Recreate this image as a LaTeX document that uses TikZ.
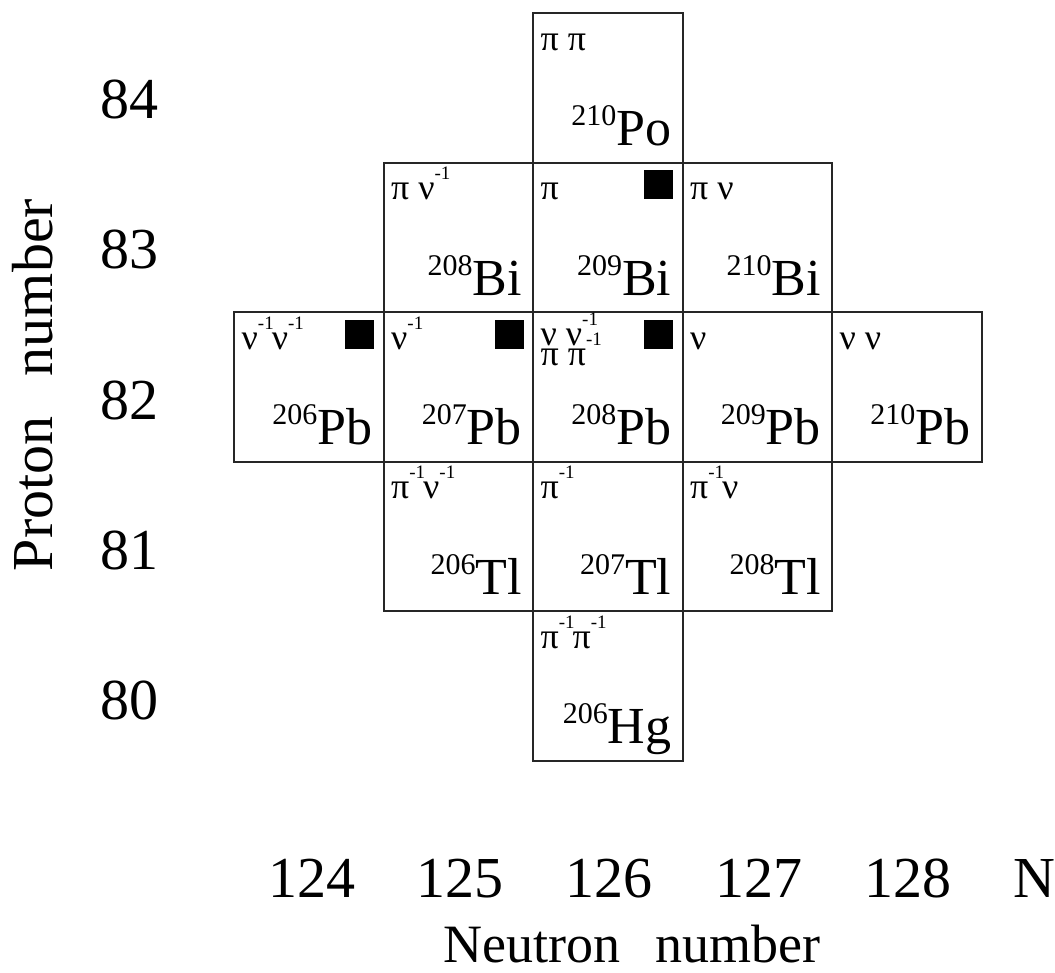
\documentclass[tikz,border=0pt]{standalone}
\usepackage{fontspec}
\setmainfont{Liberation Serif}
\usetikzlibrary{positioning}

% mass number raised in front of the element symbol
\newcommand{\nucl}[2]{{\fontsize{15}{15}\selectfont\raisebox{10pt}{#1}}#2}
% small "-1" exponent for the hole labels
\newcommand{\inv}{\raisebox{10pt}{\fontsize{9.5}{9.5}\selectfont -1}}

\begin{document}
\begin{tikzpicture}[
    x=0.5pt, y=-0.5pt,
    cell/.style={rectangle, draw=black!85, line width=1pt, minimum width=74.75pt, minimum height=74.75pt, inner sep=0pt, outer sep=0pt},
    iso/.style={anchor=base east, xshift=-5.5pt, yshift=8.5pt, inner sep=0pt, font=\fontsize{26}{26}\selectfont},
    tag/.style={anchor=base west, xshift=3.5pt, yshift=-18.5pt, inner sep=0pt, font=\fontsize{18}{18}\selectfont},
    blob/.style={fill=black, minimum size=14.5pt, inner sep=0pt, anchor=north east, xshift=-4.5pt, yshift=-3.5pt},
    axis/.style={anchor=base, inner sep=0pt, font=\fontsize{29}{29}\selectfont}
]
\useasboundingbox (0,0) rectangle (1055,973);

% Pb row
\node[cell] (pb208) at (608,387) {};
\node[cell, left=0pt of pb208] (pb207) {};
\node[cell, left=0pt of pb207] (pb206) {};
\node[cell, right=0pt of pb208] (pb209) {};
\node[cell, right=0pt of pb209] (pb210) {};

% Bi and Po above
\node[cell, above=0pt of pb208] (bi209) {};
\node[cell, left=0pt of bi209] (bi208) {};
\node[cell, right=0pt of bi209] (bi210) {};
\node[cell, above=0pt of bi209] (po210) {};

% Tl and Hg below
\node[cell, below=0pt of pb208] (tl207) {};
\node[cell, left=0pt of tl207] (tl206) {};
\node[cell, right=0pt of tl207] (tl208) {};
\node[cell, below=0pt of tl207] (hg206) {};

% Nuclide names
\node[iso] (po210-n) at (po210.south east) {\nucl{210}{Po}};
\node[iso] (bi208-n) at (bi208.south east) {\nucl{208}{Bi}};
\node[iso] (bi209-n) at (bi209.south east) {\nucl{209}{Bi}};
\node[iso] (bi210-n) at (bi210.south east) {\nucl{210}{Bi}};
\node[iso] (pb206-n) at (pb206.south east) {\nucl{206}{Pb}};
\node[iso] (pb207-n) at (pb207.south east) {\nucl{207}{Pb}};
\node[iso] (pb208-n) at (pb208.south east) {\nucl{208}{Pb}};
\node[iso] (pb209-n) at (pb209.south east) {\nucl{209}{Pb}};
\node[iso] (pb210-n) at (pb210.south east) {\nucl{210}{Pb}};
\node[iso] (tl206-n) at (tl206.south east) {\nucl{206}{Tl}};
\node[iso] (tl207-n) at (tl207.south east) {\nucl{207}{Tl}};
\node[iso] (tl208-n) at (tl208.south east) {\nucl{208}{Tl}};
\node[iso] (hg206-n) at (hg206.south east) {\nucl{206}{Hg}};

% Particle / hole content
\node[tag] (po210-t) at (po210.north west) {π π};
\node[tag] (bi208-t) at (bi208.north west) {π ν\inv};
\node[tag] (bi209-t) at (bi209.north west) {π};
\node[tag] (bi210-t) at (bi210.north west) {π ν};
\node[tag] (pb206-t) at (pb206.north west) {ν\inv\kern-1pt ν\inv};
\node[tag] (pb207-t) at (pb207.north west) {ν\inv};
\node[tag, yshift=2pt] (pb208-t) at (pb208.north west) {ν ν\inv};
\node[tag, yshift=-8pt] (pb208-u) at (pb208.north west) {π π\inv};
\node[tag] (pb209-t) at (pb209.north west) {ν};
\node[tag] (pb210-t) at (pb210.north west) {ν ν};
\node[tag] (tl206-t) at (tl206.north west) {π\inv\kern-1pt ν\inv};
\node[tag] (tl207-t) at (tl207.north west) {π\inv};
\node[tag] (tl208-t) at (tl208.north west) {π\inv\kern-1pt ν};
\node[tag] (hg206-t) at (hg206.north west) {π\inv\kern-1pt π\inv};

% Filled squares
\node[blob] (bi209-b) at (bi209.north east) {};
\node[blob] (pb206-b) at (pb206.north east) {};
\node[blob] (pb207-b) at (pb207.north east) {};
\node[blob] (pb208-b) at (pb208.north east) {};

% Proton axis
\node[axis] (z84) at (129,119) {84};
\node[axis] (z83) at (129,269) {83};
\node[axis] (z82) at (129,419) {82};
\node[axis] (z81) at (129,569) {81};
\node[axis] (z80) at (129,719) {80};
\node[axis, rotate=90] (zlab) at (53,385) {Proton\hspace{0.45em} number};

% Neutron axis
\node[axis] (n124) at (312,897) {124};
\node[axis] (n125) at (460,897) {125};
\node[axis] (n126) at (609,897) {126};
\node[axis] (n127) at (759,897) {127};
\node[axis] (n128) at (908,897) {128};
\node[axis] (nn) at (1034,897) {N};
\node[axis, font=\fontsize{27}{27}\selectfont] (nlab) at (632,962) {Neutron\hspace{0.4em} number};

\end{tikzpicture}
\end{document}
